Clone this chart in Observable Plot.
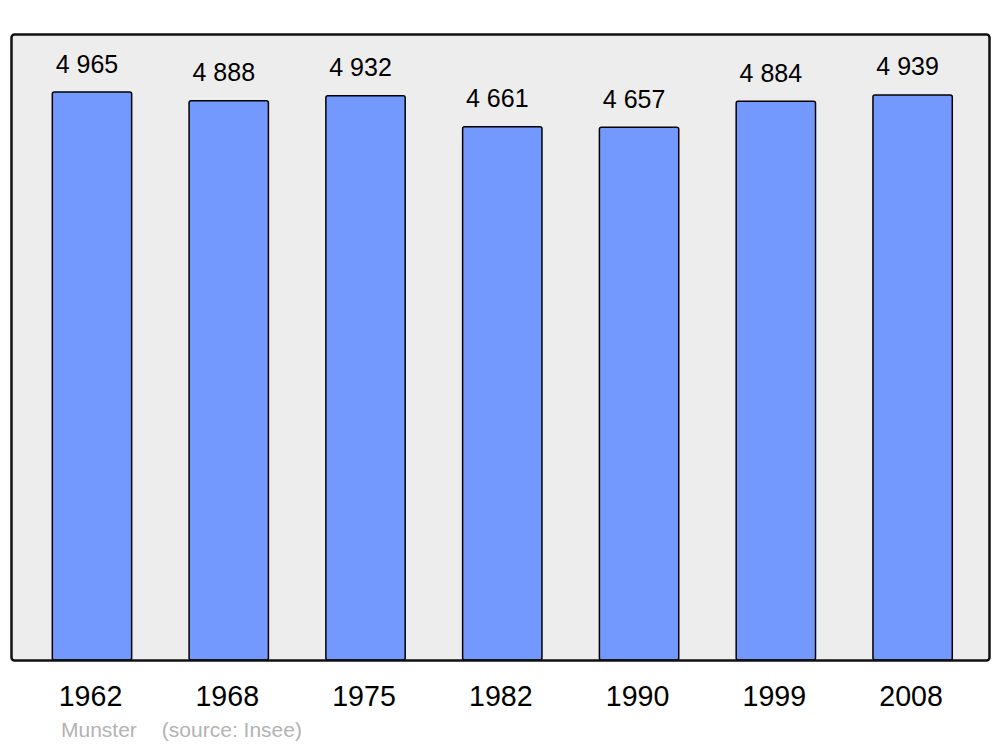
<!DOCTYPE html>
<html>
<head>
<meta charset="utf-8">
<script src="https://cdn.jsdelivr.net/npm/d3@7"></script>
<script src="https://cdn.jsdelivr.net/npm/@observablehq/plot@0.6"></script>
<style>
  html, body { margin: 0; padding: 0; background: #fff; }
  #caption { font-family: "Liberation Sans", Arial, sans-serif; font-size: 21px; color: #b3b3b3; padding-left: 61px; height: 35px; line-height: 35px; white-space: pre; }
</style>
</head>
<body>
<div id="chart"></div>
<div id="caption">Munster<span style="margin-left:25px">(source: Insee)</span></div>
<script>
const years = ["1962", "1968", "1975", "1982", "1990", "1999", "2008"];
const population = [4965, 4888, 4932, 4661, 4657, 4884, 4939];

const data = years.map((y, i) => ({year: y, value: population[i]}));
const fmt = d3.formatLocale({thousands: "\u00a0", grouping: [3], decimal: ",", currency: ["", ""]}).format(",d");

const chart = Plot.plot({
  width: 1000,
  height: 712,
  marginTop: 34,
  marginBottom: 52,
  marginLeft: 11,
  marginRight: 11,
  style: {fontFamily: "Liberation Sans, Arial, sans-serif", background: "#fff"},
  x: {domain: years, paddingInner: 0.42, paddingOuter: 0.21, insetLeft: 12.6, insetRight: 8, round: false, label: null},
  y: {domain: [0, 5472], axis: null},
  marks: [
    Plot.frame({fill: "#ededed", stroke: null, rx: 3}),
    Plot.barY(data, {x: "year", y: "value", fill: "#7399ff", stroke: "#000", strokeWidth: 1.5, rx: 2}),
    Plot.text(data, {x: "year", y: "value", text: d => fmt(d.value), dy: -28, dx: -5.5, fontSize: 25, fill: "#000"}),
    Plot.axisX({tickSize: 0, tickPadding: 25, fontSize: 28.6, fill: "#000", dx: -2}),
    Plot.frame({stroke: "#111", strokeWidth: 2.5, rx: 3})
  ]
});
document.getElementById("chart").appendChild(chart);
</script>
</body>
</html>
